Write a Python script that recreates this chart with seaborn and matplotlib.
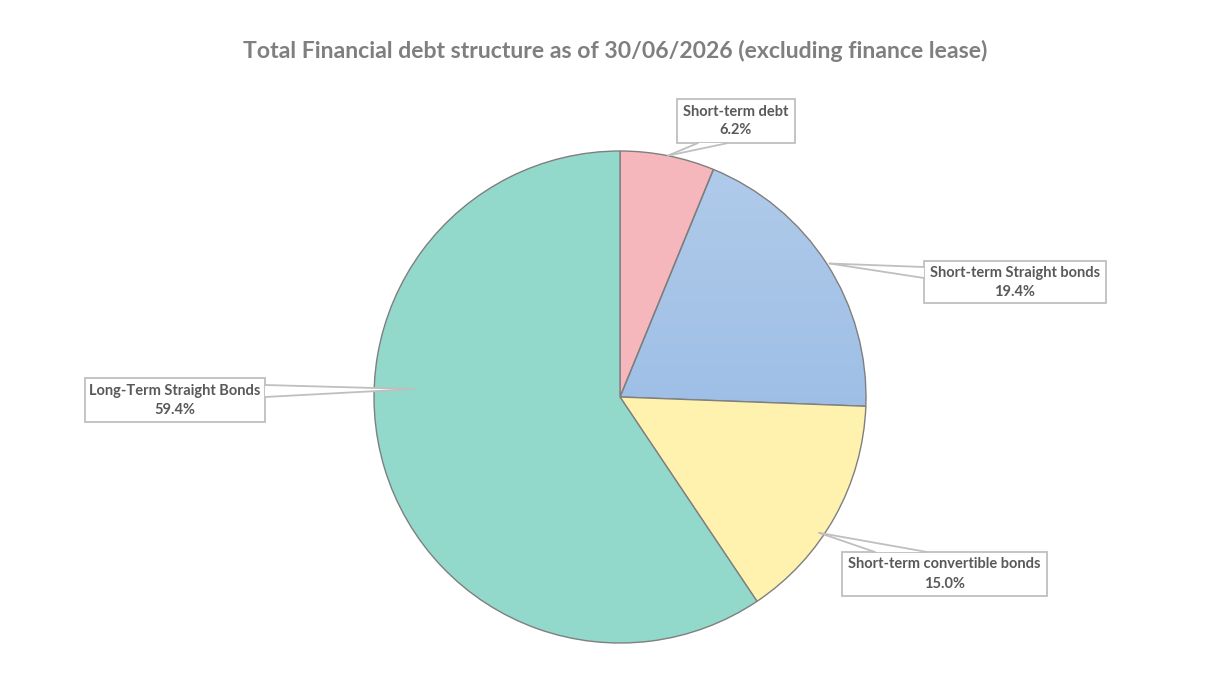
import numpy as np
import matplotlib
matplotlib.use("Agg")
import matplotlib.pyplot as plt
import seaborn as sns
from matplotlib.patches import Rectangle, Polygon

# Data
categories = ["Short-term debt", "Short-term Straight bonds",
              "Short-term convertible bonds", "Long-Term Straight Bonds"]
shares = [6.2, 19.4, 15.0, 59.4]
colors = ["#F5B7BB", None, "#FFF2AE", "#92D8CB"]
blue_top, blue_bottom = "#B1CBEA", "#8DB4E2"

sns.set_style("white")
plt.rcParams["font.family"] = ["Lato", "DejaVu Sans"]

W, H = 1217, 682
fig = plt.figure(figsize=(W / 100, H / 100), dpi=100)
ax = fig.add_axes([0, 0, 1, 1])

cx, cy, R = 620, H - 397, 246
edge = "#7F7F7F"
wedges, _ = ax.pie(shares, colors=[c if c else "none" for c in colors],
                   startangle=90, counterclock=False, center=(cx, cy), radius=R,
                   wedgeprops=dict(edgecolor=edge, linewidth=1.0), frame=True)

# gradient fill for the blue slice
grad = np.linspace(0, 1, 256).reshape(-1, 1)
cmap = matplotlib.colors.LinearSegmentedColormap.from_list("b", [blue_bottom, blue_top])
img = ax.imshow(grad, cmap=cmap, origin="lower", aspect="auto",
                extent=(cx - R, cx + R, cy - R, cy + R), zorder=0.9)
img.set_clip_path(wedges[1])

ax.set_xlim(0, W)
ax.set_ylim(0, H)
ax.set_aspect("equal")
ax.axis("off")

# label boxes (pixel layout: x0, y0 top, x1, y1 bottom), callout base and tip
boxes = [(677, 99, 795, 143), (924, 261, 1106, 303),
         (842, 552, 1047, 596), (85, 378, 265, 422)]
bases = [((698, 143), (728, 143)), ((924, 267), (924, 278)),
         ((875, 552), (927, 552)), ((265, 385), (265, 397))]
tips = [(78.8, 1.0), (32.5, 1.01), (-34.3, 0.98), (177.8, 0.84)]
label_col = "#595959"
box_col = "#BFBFBF"

for name, val, (x0, y0, x1, y1), (b1, b2), (ang, rf) in zip(categories, shares, boxes, bases, tips):
    a = np.deg2rad(ang)
    tip = (cx + R * rf * np.cos(a), cy + R * rf * np.sin(a))
    p1 = (b1[0], H - b1[1])
    p2 = (b2[0], H - b2[1])
    ax.add_patch(Rectangle((x0, H - y1), x1 - x0, y1 - y0, facecolor="white",
                           edgecolor=box_col, linewidth=1.3, zorder=3))
    ax.add_patch(Polygon([tip, p1, p2], closed=True, facecolor="white",
                         edgecolor="none", zorder=3.1))
    ax.plot([tip[0], p1[0]], [tip[1], p1[1]], color=box_col, lw=1.3, zorder=3.2)
    ax.plot([tip[0], p2[0]], [tip[1], p2[1]], color=box_col, lw=1.3, zorder=3.2)
    xc = (x0 + x1) / 2
    ym = H - (y0 + y1) / 2
    ax.text(xc, ym + 9.5, name, ha="center", va="center", fontsize=10.5,
            fontweight="bold", color=label_col, zorder=4)
    ax.text(xc, ym - 9.5, f"{val:.1f}%", ha="center", va="center", fontsize=10.5,
            fontweight="bold", color=label_col, zorder=4)

ax.text(615, H - 51, "Total Financial debt structure as of 30/06/2026 (excluding finance lease)",
        ha="center", va="center", fontsize=16.6, fontweight="bold", color="#7F7F7F")

fig.savefig("out.png", dpi=100, facecolor="white")
